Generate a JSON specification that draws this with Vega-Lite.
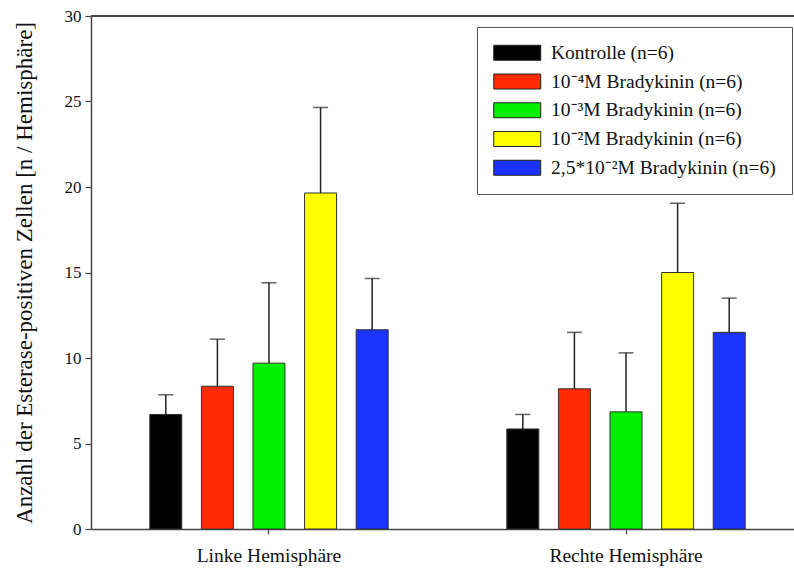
{
  "$schema": "https://vega.github.io/schema/vega-lite/v6.json",
  "autosize": {"type": "none"},
  "width": 703,
  "height": 513,
  "padding": {"left": 91, "top": 16, "right": 0, "bottom": 43},
  "background": "white",
  "config": {
    "view": {"stroke": null},
    "font": "Liberation Serif",
    "legend": {"labelFont": "Liberation Serif", "labelFontSize": 19.5, "labelColor": "#111"},
    "text": {"font": "Liberation Serif"}
  },
  "data": {
    "values": [
      {"Seite": "Linke Hemisphäre", "Gruppe": "Kontrolle (n=6)", "Mittelwert": 6.7, "Oben": 7.85},
      {"Seite": "Linke Hemisphäre", "Gruppe": "10⁻⁴M Bradykinin (n=6)", "Mittelwert": 8.35, "Oben": 11.1},
      {"Seite": "Linke Hemisphäre", "Gruppe": "10⁻³M Bradykinin (n=6)", "Mittelwert": 9.7, "Oben": 14.4},
      {"Seite": "Linke Hemisphäre", "Gruppe": "10⁻²M Bradykinin (n=6)", "Mittelwert": 19.65, "Oben": 24.65},
      {"Seite": "Linke Hemisphäre", "Gruppe": "2,5*10⁻²M Bradykinin (n=6)", "Mittelwert": 11.65, "Oben": 14.65},
      {"Seite": "Rechte Hemisphäre", "Gruppe": "Kontrolle (n=6)", "Mittelwert": 5.85, "Oben": 6.7},
      {"Seite": "Rechte Hemisphäre", "Gruppe": "10⁻⁴M Bradykinin (n=6)", "Mittelwert": 8.2, "Oben": 11.5},
      {"Seite": "Rechte Hemisphäre", "Gruppe": "10⁻³M Bradykinin (n=6)", "Mittelwert": 6.85, "Oben": 10.3},
      {"Seite": "Rechte Hemisphäre", "Gruppe": "10⁻²M Bradykinin (n=6)", "Mittelwert": 15.0, "Oben": 19.05},
      {"Seite": "Rechte Hemisphäre", "Gruppe": "2,5*10⁻²M Bradykinin (n=6)", "Mittelwert": 11.5, "Oben": 13.5}
    ]
  },
  "layer": [
    {
      "mark": {"type": "rule", "color": "#444", "strokeWidth": 1.5},
      "encoding": {"y": {"datum": 30, "type": "quantitative", "scale": {"domain": [0, 30], "nice": false}}}
    },
    {
      "mark": {"type": "bar", "stroke": "#333", "strokeWidth": 1},
      "encoding": {
        "x": {
          "field": "Seite", "type": "nominal", "sort": null,
          "scale": {"paddingInner": 0.3, "paddingOuter": 0.1345, "align": 0.552},
          "axis": {
            "title": null, "labelAngle": 0, "labelFont": "Liberation Serif", "labelFontSize": 19.5,
            "labelColor": "#111", "labelPadding": 12, "tickSize": 5, "tickColor": "#444",
            "domainColor": "#444", "domainWidth": 1.5, "tickWidth": 1.2
          }
        },
        "xOffset": {
          "field": "Gruppe", "type": "nominal",
          "sort": ["Kontrolle (n=6)", "10⁻⁴M Bradykinin (n=6)", "10⁻³M Bradykinin (n=6)", "10⁻²M Bradykinin (n=6)", "2,5*10⁻²M Bradykinin (n=6)"],
          "scale": {"paddingInner": 0.38, "paddingOuter": 0.112}
        },
        "y": {
          "field": "Mittelwert", "type": "quantitative",
          "scale": {"domain": [0, 30], "nice": false},
          "axis": {
            "title": "Anzahl der Esterase-positiven Zellen [n / Hemisphäre]",
            "titleFont": "Liberation Serif", "titleFontSize": 23, "titleFontWeight": "normal",
            "titleColor": "#111", "titlePadding": 28,
            "values": [0, 5, 10, 15, 20, 25, 30], "grid": false,
            "labelFont": "Liberation Serif", "labelFontSize": 17, "labelColor": "#111",
            "labelPadding": 4, "tickSize": 6, "tickColor": "#444", "tickWidth": 1.2,
            "domainColor": "#444", "domainWidth": 1.5
          }
        },
        "color": {
          "field": "Gruppe", "type": "nominal",
          "sort": ["Kontrolle (n=6)", "10⁻⁴M Bradykinin (n=6)", "10⁻³M Bradykinin (n=6)", "10⁻²M Bradykinin (n=6)", "2,5*10⁻²M Bradykinin (n=6)"],
          "scale": {
            "domain": ["Kontrolle (n=6)", "10⁻⁴M Bradykinin (n=6)", "10⁻³M Bradykinin (n=6)", "10⁻²M Bradykinin (n=6)", "2,5*10⁻²M Bradykinin (n=6)"],
            "range": ["#000000", "#ff2a00", "#00ee00", "#ffff00", "#1a33ff"]
          },
          "legend": {
            "title": null, "orient": "none", "legendX": 386, "legendY": 11,
            "padding": 16, "strokeColor": "#555", "fillColor": "white",
            "symbolType": "M-3.133,-1L3.133,-1L3.133,1L-3.133,1Z",
            "symbolSize": 225, "symbolOffset": 14.5, "symbolStrokeColor": "#222", "symbolStrokeWidth": 1,
            "labelFont": "Liberation Serif", "labelFontSize": 19.5, "labelColor": "#111",
            "labelOffset": 24, "rowPadding": 7.75, "labelLimit": 400
          }
        }
      }
    },
    {
      "mark": {"type": "rule", "color": "#222", "strokeWidth": 1.5},
      "encoding": {
        "x": {"field": "Seite", "type": "nominal", "sort": null},
        "xOffset": {"field": "Gruppe", "type": "nominal", "sort": ["Kontrolle (n=6)", "10⁻⁴M Bradykinin (n=6)", "10⁻³M Bradykinin (n=6)", "10⁻²M Bradykinin (n=6)", "2,5*10⁻²M Bradykinin (n=6)"]},
        "y": {"field": "Mittelwert", "type": "quantitative"},
        "y2": {"field": "Oben"}
      }
    },
    {
      "mark": {"type": "tick", "color": "#222", "thickness": 1.5, "size": 15},
      "encoding": {
        "x": {"field": "Seite", "type": "nominal", "sort": null},
        "xOffset": {"field": "Gruppe", "type": "nominal", "sort": ["Kontrolle (n=6)", "10⁻⁴M Bradykinin (n=6)", "10⁻³M Bradykinin (n=6)", "10⁻²M Bradykinin (n=6)", "2,5*10⁻²M Bradykinin (n=6)"]},
        "y": {"field": "Oben", "type": "quantitative"}
      }
    }
  ]
}
